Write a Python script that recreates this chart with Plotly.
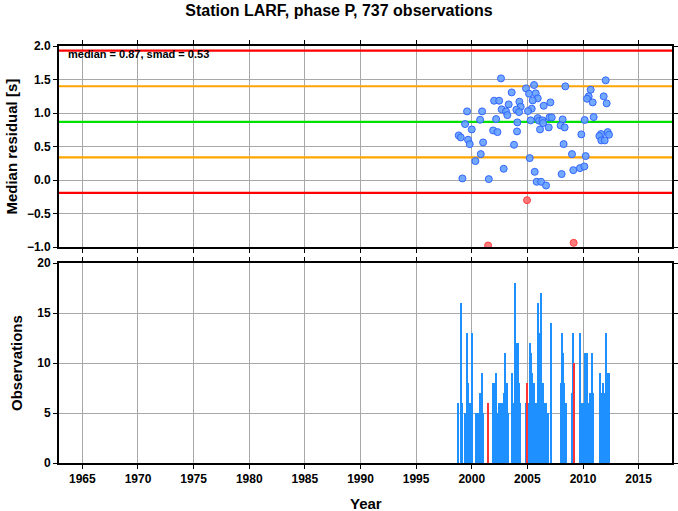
import plotly.graph_objects as go
from plotly.subplots import make_subplots

title = "Station LARF, phase P, 737 observations"
median = 0.87
smad = 0.53

# residual points (blue = within bounds, red = outliers)
blue_year = [2002.63, 2012.04, 2005.60, 2008.41, 2004.88, 2010.69, 2003.59, 2005.15, 2005.75, 2011.86,
             2010.51, 2010.36, 2005.93, 2005.48, 2002.01, 2002.46, 2004.28, 2007.07, 2010.87, 2012.13,
             2003.32, 2004.40, 2006.47, 2002.69, 2004.01, 2005.39, 1999.58, 2000.93, 2003.08, 2004.25,
             2005.06, 2003.20, 2000.75, 2002.19, 2005.93, 2006.98, 2007.19, 2008.17, 2005.30, 2006.05,
             2006.35, 2010.15, 2010.96, 2004.10, 2006.41, 1999.40, 2007.99, 2008.35, 2006.92, 2000.00,
             2006.14, 2001.92, 2002.31, 2004.07, 2009.85, 2012.22, 2011.62, 2012.34, 1998.83, 1999.01,
             2011.47, 1999.67, 2011.65, 2011.95, 1999.82, 2001.02, 2003.80, 2008.26, 2000.81, 2009.01,
             2010.24, 2000.33, 2005.21, 2002.87, 2005.66, 2008.08, 2009.13, 2009.73, 2010.12, 1999.16,
             2001.53, 2005.84, 2006.23, 2006.68]
blue_resid = [1.517, 1.488, 1.418, 1.398, 1.368, 1.348, 1.308, 1.289, 1.294, 1.249,
              1.249, 1.214, 1.219, 1.189, 1.184, 1.184, 1.169, 1.159, 1.159, 1.144,
              1.129, 1.095, 1.109, 1.055, 1.050, 1.065, 1.025, 1.025, 1.025, 1.015,
              1.030, 0.970, 0.900, 0.910, 0.925, 0.935, 0.935, 0.905, 0.891, 0.886,
              0.891, 0.896, 0.940, 0.861, 0.851, 0.836, 0.816, 0.786, 0.786, 0.756,
              0.756, 0.741, 0.716, 0.726, 0.682, 0.716, 0.687, 0.677, 0.667, 0.637,
              0.657, 0.602, 0.592, 0.592, 0.537, 0.562, 0.527, 0.537, 0.388, 0.388,
              0.358, 0.284, 0.328, 0.169, 0.124, 0.090, 0.149, 0.179, 0.204, 0.025,
              0.015, -0.025, -0.025, -0.080]
red_year = [2004.97, 2001.47, 2009.16]
red_resid = [-0.299, -0.975, -0.935]

# observation counts per epoch
bar_year = [1998.80, 1999.01, 1999.16, 1999.40, 1999.58, 1999.70, 1999.79, 2000.00, 1999.85, 2000.36,
            2000.54, 2000.78, 2000.90, 2001.02, 2001.89, 2002.04, 2002.19, 2002.31, 2002.43, 2002.55,
            2002.70, 2002.85, 2003.02, 2003.14, 2003.23, 2003.59, 2003.74, 2003.89, 2004.01, 2004.13,
            2004.28, 2004.37, 2004.88, 2005.09, 2005.24, 2005.33, 2005.45, 2005.60, 2005.72, 2005.84,
            2005.93, 2005.99, 2006.08, 2006.20, 2006.29, 2006.41, 2006.56, 2006.68, 2006.89, 2007.10,
            2007.16, 2007.99, 2008.11, 2008.23, 2008.32, 2008.44, 2008.98, 2009.10, 2009.76, 2009.88,
            2010.09, 2010.21, 2010.27, 2010.36, 2010.51, 2010.63, 2010.69, 2010.81, 2010.93, 2011.53,
            2011.68, 2011.77, 2011.92, 2012.04, 2012.13, 2012.25, 2012.34]
bar_count = [6, 16, 6, 5, 13, 8, 6, 13, 6, 5,
             5, 7, 9, 5, 8, 8, 9, 5, 6, 6,
             6, 7, 11, 8, 5, 9, 6, 18, 12, 12,
             8, 6, 6, 6, 12, 11, 9, 8, 6, 6,
             11, 16, 13, 17, 7, 8, 6, 6, 5, 14,
             11, 8, 13, 11, 8, 6, 7, 13, 13, 6,
             6, 11, 8, 11, 6, 7, 7, 11, 7, 9,
             7, 8, 7, 13, 8, 9, 9]
red_bar_year = [2001.47, 2004.97, 2009.16]
red_bar_count = [6, 8, 10]

x_ticks = [1965, 1970, 1975, 1980, 1985, 1990, 1995, 2000, 2005, 2010, 2015]

fig = make_subplots(rows=2, cols=1, shared_xaxes=False, vertical_spacing=0.038,
                    row_heights=[0.5015, 0.4985])

# reference lines
hlines = [(median + 2 * smad, "#FF0000"), (median + smad, "#FFA500"), (median, "#00E000"),
          (median - smad, "#FFA500"), (median - 2 * smad, "#FF0000")]
for val, col in hlines:
    fig.add_trace(go.Scatter(x=[1962.9, 2018.0], y=[val, val], mode="lines",
                             line=dict(color=col, width=2.2), showlegend=False, hoverinfo="skip"),
                  row=1, col=1)

fig.add_trace(go.Scatter(x=blue_year, y=blue_resid, mode="markers",
                         marker=dict(size=7, color="rgba(100,160,255,0.9)",
                                     line=dict(color="#3366FF", width=1)),
                         showlegend=False), row=1, col=1)
fig.add_trace(go.Scatter(x=red_year, y=red_resid, mode="markers",
                         marker=dict(size=7, color="rgba(255,100,100,0.85)",
                                     line=dict(color="#FF4040", width=1)),
                         showlegend=False), row=1, col=1)

fig.add_trace(go.Bar(x=bar_year, y=bar_count, width=0.08, marker=dict(color="#1E90FF", line=dict(width=0)),
                     showlegend=False), row=2, col=1)
fig.add_trace(go.Bar(x=red_bar_year, y=red_bar_count, width=0.08, marker=dict(color="#FF3333", line=dict(width=0)),
                     showlegend=False), row=2, col=1)

tickfont = dict(family="Liberation Sans", size=12, color="black", weight="bold")
axis_common = dict(showline=True, linecolor="black", linewidth=2, mirror="ticks",
                   ticks="outside", ticklen=4, tickcolor="black", tickwidth=1,
                   showgrid=True, gridcolor="#A8A8A8", gridwidth=1, zeroline=False,
                   tickfont=tickfont, automargin=False)

fig.update_xaxes(range=[1962.9, 2018.0], tickvals=x_ticks, **axis_common)
fig.update_xaxes(showticklabels=False, row=1, col=1)
fig.update_yaxes(**axis_common)
fig.update_yaxes(range=[-1.0, 2.0], dtick=0.5, tickformat=".1f", row=1, col=1)
fig.update_yaxes(range=[0, 20], dtick=5, row=2, col=1)

fig.update_layout(
    width=678, height=511,
    margin=dict(l=59, r=6, t=46, b=48, autoexpand=False),
    paper_bgcolor="white", plot_bgcolor="white",
    bargap=0, barmode="overlay",
    title=dict(text=title, x=0.5, xanchor="center", y=0.98, yanchor="middle",
               font=dict(family="Liberation Sans", size=16, color="black", weight="bold")),
    annotations=[
        dict(text="median = 0.87, smad = 0.53", xref="x domain", yref="y domain", x=0.011, y=0.96,
             xanchor="left", yanchor="middle", showarrow=False,
             font=dict(family="Liberation Sans", size=11, color="black", weight="bold")),
        dict(text="Median residual [s]", xref="paper", yref="y domain", x=0, y=0.5, xshift=-47,
             textangle=-90, showarrow=False, xanchor="center", yanchor="middle",
             font=dict(family="Liberation Sans", size=15, color="black", weight="bold")),
        dict(text="Observations", xref="paper", yref="y2 domain", x=0, y=0.5, xshift=-43,
             textangle=-90, showarrow=False, xanchor="center", yanchor="middle",
             font=dict(family="Liberation Sans", size=15, color="black", weight="bold")),
        dict(text="Year", xref="paper", yref="paper", x=0.5, y=0, yshift=-40,
             showarrow=False, xanchor="center", yanchor="middle",
             font=dict(family="Liberation Sans", size=15, color="black", weight="bold")),
    ],
)

fig.write_html("out.html", config={"displayModeBar": False},
               post_script="document.body.style.margin='0';document.body.style.overflow='hidden';")
